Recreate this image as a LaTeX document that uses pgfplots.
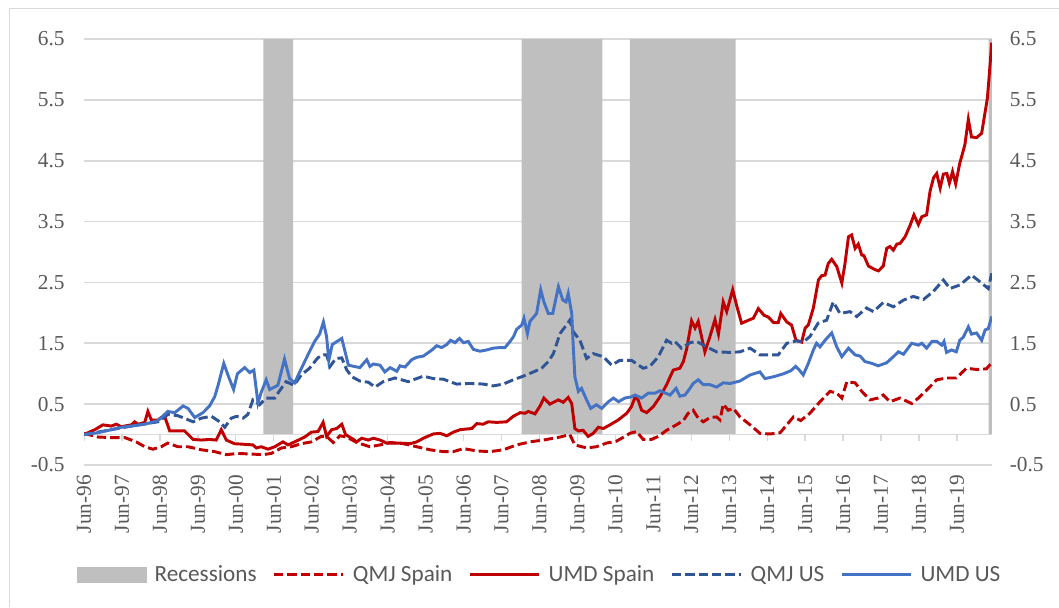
\documentclass[border=0pt]{standalone}
\usepackage{pgfplots}
\pgfplotsset{compat=1.18}
\usepackage{fontspec}
\setmainfont{Liberation Serif}
\newfontfamily\calibri{Carlito}
\definecolor{ured}{HTML}{C00000}
\definecolor{qblue}{HTML}{2F5597}
\definecolor{ublue}{HTML}{4472C4}
\definecolor{recgray}{HTML}{BFBFBF}
\definecolor{gridgray}{HTML}{D9D9D9}
\definecolor{txtgray}{HTML}{595959}
\begin{document}
\begin{tikzpicture}
\useasboundingbox (0,0) rectangle (794.25pt,455.25pt);
\draw[gridgray, line width=0.75pt] (6.75pt,0) -- (6.75pt,448.5pt) -- (794.25pt,448.5pt);
\begin{axis}[
  at={(63pt,106.5pt)}, anchor=south west,
  scale only axis, width=680.8pt, height=319.5pt,
  xmin=0, xmax=287, ymin=-0.5, ymax=6.5,
  axis line style={draw=none}, tick style={draw=none},
  xtick={0,12,24,36,48,60,72,84,96,108,120,132,144,156,168,180,192,204,216,228,240,252,264,276},
  xticklabels={Jun-96,Jun-97,Jun-98,Jun-99,Jun-00,Jun-01,Jun-02,Jun-03,Jun-04,Jun-05,Jun-06,Jun-07,Jun-08,Jun-09,Jun-10,Jun-11,Jun-12,Jun-13,Jun-14,Jun-15,Jun-16,Jun-17,Jun-18,Jun-19},
  xticklabel style={rotate=90, anchor=east, font=\fontsize{16}{18}\selectfont, text=txtgray},
  xticklabel shift=4pt,
  ytick={-0.5,0.5,1.5,2.5,3.5,4.5,5.5,6.5},
  yticklabels={-0.5,0.5,1.5,2.5,3.5,4.5,5.5,6.5},
  yticklabel style={font=\fontsize{16}{18}\selectfont, text=txtgray},
  yticklabel shift=11pt,
  yticklabel pos=left,
  ymajorgrids, grid style={gridgray, line width=1.2pt},
  legend columns=5,
  legend cell align=left,
  legend style={draw=none, fill=none, at={(0.5025,-0.258)}, anchor=center,
    font=\calibri\fontsize{17.4}{20}\selectfont, text=txtgray,
    /tikz/every odd column/.append style={column sep=4pt},
    /tikz/every even column/.append style={column sep=10pt}},
  legend image code/.code={\draw[#1] (0pt,0pt) -- (52pt,0pt);},
]
% recessions
\addplot[draw=none, fill=recgray, const plot, area legend,
  legend image code/.code={\fill[recgray] (0pt,-6pt) rectangle (52pt,6pt);}]
  coordinates {(0,0) (56.7,6.5) (66.1,0) (138.4,6.5) (163.9,0) (172.6,6.5) (206,0) (286,6.5) (287,6.5)} \closedcycle;
\addlegendentry{Recessions}
% baseline and tick marks
\addplot[forget plot, gridgray, line width=1.2pt] coordinates {(0,0) (287,0)};
\addplot[forget plot, ycomb, gridgray, line width=1pt, no marks] coordinates {(0,-0.1) (12,-0.1) (24,-0.1) (36,-0.1) (48,-0.1) (60,-0.1) (72,-0.1) (84,-0.1) (96,-0.1) (108,-0.1) (120,-0.1) (132,-0.1) (144,-0.1) (156,-0.1) (168,-0.1) (180,-0.1) (192,-0.1) (204,-0.1) (216,-0.1) (228,-0.1) (240,-0.1) (252,-0.1) (264,-0.1) (276,-0.1)};
% QMJ Spain
\addplot[ured, line width=2.2pt, dash pattern=on 7pt off 3pt, no marks] coordinates {
(0,0.02) (4.4,-0.04) (8.6,-0.05) (12.9,-0.05) (16.5,-0.12) (19.2,-0.20) (21.8,-0.24) (24.4,-0.20) (26.5,-0.14) (29.7,-0.20) (32.9,-0.20) (37.1,-0.25) (41.3,-0.28) (45,-0.33) (48.7,-0.31) (52.9,-0.32) (56.6,-0.33) (59.2,-0.31) (62.4,-0.22) (65.5,-0.20) (68.7,-0.15) (71.9,-0.12) (75,-0.03) (76.7,-0.03) (78.8,-0.13) (80.9,-0.02) (83.1,-0.04) (86.2,-0.13) (90.4,-0.20) (93.6,-0.17) (96.8,-0.13) (101,-0.15) (105.2,-0.20) (109.4,-0.25) (113.6,-0.28) (116.8,-0.28) (120,-0.23) (124.2,-0.27) (128.4,-0.28) (132.6,-0.25) (136.8,-0.17) (141,-0.12) (145.2,-0.09) (148.4,-0.06) (150.5,-0.04) (153.6,0.0) (155.2,-0.17) (158.9,-0.22) (162,-0.20) (165.2,-0.14) (168.3,-0.11) (171,-0.03) (172.6,0.02) (174.7,0.05) (176.8,-0.08) (179.4,-0.08) (181.6,-0.03) (184.2,0.07) (187.3,0.16) (189.5,0.23) (191,0.35) (192.6,0.40) (194.2,0.27) (195.8,0.21) (197.9,0.28) (200,0.29) (201.1,0.24) (202.1,0.50) (203.7,0.40) (205.3,0.43) (207.4,0.29) (210.6,0.16) (213.7,0.02) (216.9,0.01) (220.1,0.03) (222.2,0.16) (224.3,0.29) (226.6,0.23) (229.5,0.35) (232.7,0.54) (235.9,0.71) (238,0.68) (239.6,0.60) (241.2,0.87) (243.8,0.85) (245.9,0.71) (248.5,0.57) (251.1,0.60) (252.7,0.65) (254.8,0.54) (258,0.60) (261.7,0.51) (263.8,0.60) (266.4,0.73) (269.6,0.90) (272.8,0.93) (275.8,0.93) (279,1.09) (282.2,1.07) (285.3,1.08) (287,1.18)};
\addlegendentry{QMJ Spain}
% UMD Spain
\addplot[ured, line width=2.2pt, no marks] coordinates {
(0,0) (3.4,0.08) (6,0.16) (8.6,0.14) (10.2,0.17) (11.8,0.13) (15,0.16) (16,0.21) (17.1,0.17) (19.2,0.20) (20.2,0.38) (21.3,0.24) (23.4,0.24) (24.4,0.28) (25.7,0.27) (27.1,0.06) (29.2,0.06) (31.8,0.06) (34.5,-0.08) (37.1,-0.09) (39.7,-0.08) (41.8,-0.09) (43.4,0.08) (45,-0.09) (47.6,-0.15) (50.8,-0.16) (53.4,-0.17) (54.5,-0.22) (56,-0.20) (58.2,-0.24) (60.3,-0.20) (62.9,-0.12) (64.5,-0.17) (66.6,-0.12) (69.8,-0.04) (71.9,0.04) (74,0.05) (75.6,0.20) (76.7,-0.03) (78.3,0.08) (79.9,0.10) (81.5,0.17) (82.7,0.0) (85.2,-0.08) (86.2,-0.12) (87.8,-0.06) (89.9,-0.09) (91.5,-0.06) (93.6,-0.09) (95.7,-0.14) (99.9,-0.14) (103.1,-0.15) (105.2,-0.12) (107.3,-0.06) (110.4,0.01) (112.6,0.02) (114.7,-0.02) (116.8,0.04) (118.9,0.08) (122.6,0.10) (124.2,0.18) (126.2,0.17) (127.8,0.21) (130.5,0.20) (133.6,0.21) (135.7,0.30) (137.9,0.36) (139.4,0.35) (140.5,0.38) (142.6,0.34) (144.2,0.47) (145.4,0.60) (147.3,0.50) (150,0.57) (151.5,0.53) (153.1,0.61) (154.2,0.51) (155.2,0.10) (156.3,0.06) (157.8,0.07) (159.4,-0.03) (161,0.02) (162.6,0.12) (164.2,0.10) (166.3,0.16) (168.9,0.24) (171.6,0.35) (173.1,0.46) (174.2,0.61) (175.2,0.57) (176.3,0.40) (177.9,0.36) (180,0.46) (182.1,0.62) (184.2,0.82) (186.3,1.06) (188.4,1.09) (189.5,1.20) (190.6,1.42) (192.1,1.87) (193.2,1.75) (194.2,1.86) (196.3,1.36) (197.9,1.61) (199.5,1.89) (200.6,1.65) (202.1,2.18) (203.2,2.02) (205.1,2.38) (206.3,2.13) (207.9,1.83) (210.6,1.89) (211.6,1.91) (213.2,2.07) (215,1.96) (216.4,1.93) (218,1.84) (219.5,1.84) (220.3,1.99) (222.2,1.85) (223.7,1.80) (225.1,1.55) (226.9,1.52) (228,1.75) (229,1.80) (230.6,2.08) (232.2,2.54) (233.2,2.61) (234.3,2.62) (235.3,2.81) (236.4,2.88) (238,2.76) (239.6,2.49) (240.6,2.81) (241.7,3.25) (242.7,3.28) (243.8,3.06) (244.8,3.13) (245.9,2.95) (246.6,2.94) (248,2.77) (250.1,2.71) (251.2,2.69) (252.7,2.77) (253.8,3.06) (254.8,3.09) (255.9,3.03) (257,3.13) (258,3.14) (259.6,3.25) (261.2,3.44) (262.4,3.61) (263.8,3.45) (264.9,3.58) (266.4,3.61) (267.5,4.0) (268.6,4.22) (269.6,4.29) (270.7,4.05) (271.7,4.28) (272.8,4.29) (273.6,4.13) (274.6,4.32) (275.6,4.12) (276.9,4.46) (278.5,4.76) (279.6,5.18) (280.6,4.89) (282.2,4.88) (283.8,4.95) (285.6,5.52) (286.1,5.83) (287,6.44)};
\addlegendentry{UMD Spain}
% QMJ US
\addplot[qblue, line width=2.2pt, dash pattern=on 7pt off 3pt, no marks] coordinates {
(0,0) (8.6,0.08) (15,0.14) (23.4,0.21) (26.5,0.33) (29.7,0.31) (34.5,0.21) (37.1,0.27) (40.3,0.30) (42.9,0.21) (44.5,0.12) (46.6,0.27) (48.2,0.30) (50.3,0.27) (51.8,0.33) (53.4,0.57) (55.5,0.49) (57.6,0.60) (60.3,0.60) (61.3,0.68) (63.9,0.87) (66.4,0.81) (68.7,0.98) (71.3,1.09) (73.9,1.26) (75.7,1.31) (76.7,1.31) (77.8,1.12) (79.6,1.25) (81.5,1.26) (83.1,1.06) (84.7,0.95) (87.2,0.88) (89.9,0.86) (92,0.78) (94.6,0.87) (98.3,0.93) (102.5,0.87) (107.3,0.96) (110.4,0.92) (113.6,0.91) (117.8,0.83) (122,0.84) (126.2,0.83) (129.4,0.80) (132.6,0.83) (135.7,0.90) (138.9,0.96) (142.1,1.03) (144.7,1.09) (146.8,1.20) (148.4,1.33) (150.5,1.66) (152.1,1.77) (153.6,1.88) (154.7,1.69) (156.8,1.55) (158.9,1.25) (161,1.33) (164.2,1.28) (166.8,1.14) (169.4,1.22) (173.1,1.22) (176.8,1.09) (178.9,1.12) (181.6,1.28) (184.2,1.55) (185.8,1.50) (186.8,1.53) (188.9,1.42) (191.6,1.51) (193.7,1.53) (196.9,1.44) (200,1.36) (204.3,1.35) (207.4,1.36) (210.6,1.42) (213.7,1.31) (216.9,1.31) (219.5,1.31) (222.2,1.50) (225.3,1.54) (227.4,1.52) (229.5,1.61) (232.1,1.83) (234.8,1.88) (236.9,2.18) (239,1.99) (242.2,2.02) (244.3,1.94) (247.4,2.08) (249.6,2.02) (252.7,2.17) (255.9,2.10) (259.1,2.21) (262.2,2.27) (265.4,2.22) (268.5,2.35) (271.7,2.54) (273.8,2.40) (277,2.46) (280.6,2.62) (283.3,2.51) (285.9,2.40) (287,2.65)};
\addlegendentry{QMJ US}
% UMD US
\addplot[ublue, line width=2.2pt, no marks] coordinates {
(0,0) (4.4,0.03) (8.6,0.08) (11.8,0.12) (15,0.14) (19.2,0.17) (23.4,0.23) (26.5,0.38) (28.7,0.36) (31.3,0.47) (32.9,0.43) (35,0.28) (37.6,0.36) (39.7,0.47) (41.3,0.62) (42.4,0.81) (44.2,1.17) (45.5,0.98) (47.3,0.74) (48.5,1.00) (50.8,1.10) (52.4,1.02) (53.7,1.06) (55,0.52) (56,0.69) (57.6,0.90) (58.7,0.74) (61.3,0.81) (63.4,1.24) (65,0.92) (66.6,0.85) (68.2,1.03) (70.8,1.31) (72.9,1.53) (74.5,1.65) (75.7,1.85) (76.7,1.61) (77.4,1.22) (78.5,1.48) (81.5,1.58) (83.6,1.14) (87.2,1.10) (89.4,1.23) (90.4,1.12) (91.5,1.16) (93.6,1.14) (95.1,1.03) (96.8,1.10) (98.9,1.04) (99.9,1.13) (101.5,1.11) (103.6,1.23) (105.2,1.27) (107.3,1.29) (110,1.39) (111.5,1.46) (113.1,1.43) (114.7,1.48) (115.9,1.55) (117.3,1.51) (118.7,1.58) (120,1.51) (121.5,1.53) (123.1,1.40) (125.2,1.37) (127.3,1.39) (129.4,1.42) (131.5,1.43) (133.1,1.43) (134.7,1.53) (135.8,1.61) (136.8,1.73) (138.4,1.80) (139.1,1.91) (140.2,1.66) (141,1.86) (143.1,1.99) (144.4,2.38) (145.4,2.18) (146.8,1.99) (148.2,1.99) (150,2.43) (151.4,2.21) (152.4,2.18) (153.1,2.32) (154.2,1.99) (154.7,1.44) (155.2,0.95) (156.3,0.71) (157.3,0.76) (158.9,0.57) (160.2,0.43) (162,0.49) (163.7,0.43) (165.8,0.54) (167.4,0.60) (169,0.54) (171,0.60) (173.1,0.62) (174.2,0.65) (176.3,0.60) (178.4,0.68) (180.5,0.68) (182.1,0.72) (185.3,0.65) (187.2,0.76) (188.4,0.63) (190,0.65) (191.6,0.76) (192.6,0.84) (194.2,0.90) (195.8,0.82) (197.9,0.82) (200,0.78) (202.1,0.85) (204.3,0.84) (207.4,0.88) (210.6,0.98) (213.7,1.03) (215.3,0.92) (218,0.95) (221.2,1.00) (223.5,1.05) (225,1.12) (226,1.07) (227.4,0.98) (229,1.17) (230.6,1.39) (231.6,1.50) (232.7,1.44) (234.3,1.55) (236.4,1.67) (238,1.44) (239.6,1.28) (241.7,1.42) (243.8,1.31) (245.4,1.29) (246.9,1.20) (249.1,1.17) (251.1,1.13) (253.8,1.18) (255.9,1.28) (257.5,1.36) (259.1,1.32) (261.7,1.50) (263.8,1.47) (264.9,1.50) (266.4,1.42) (268.1,1.53) (269.6,1.53) (271.2,1.47) (271.9,1.53) (272.7,1.35) (274.3,1.39) (275.8,1.36) (276.9,1.55) (278,1.60) (279.6,1.77) (280.6,1.65) (282.2,1.67) (283.8,1.55) (284.9,1.72) (285.9,1.74) (287,1.94)};
\addlegendentry{UMD US}
\end{axis}
\begin{axis}[
  at={(63pt,106.5pt)}, anchor=south west,
  scale only axis, width=680.8pt, height=319.5pt,
  xmin=0, xmax=287, ymin=-0.5, ymax=6.5,
  hide x axis, axis y line*=right,
  y axis line style={draw=none}, tick style={draw=none},
  ytick={-0.5,0.5,1.5,2.5,3.5,4.5,5.5,6.5},
  yticklabels={-0.5,0.5,1.5,2.5,3.5,4.5,5.5,6.5},
  yticklabel style={font=\fontsize{16}{18}\selectfont, text=txtgray},
  yticklabel shift=10pt,
]
\addplot[draw=none, forget plot] coordinates {(0,0)};
\end{axis}
\end{tikzpicture}
\end{document}
